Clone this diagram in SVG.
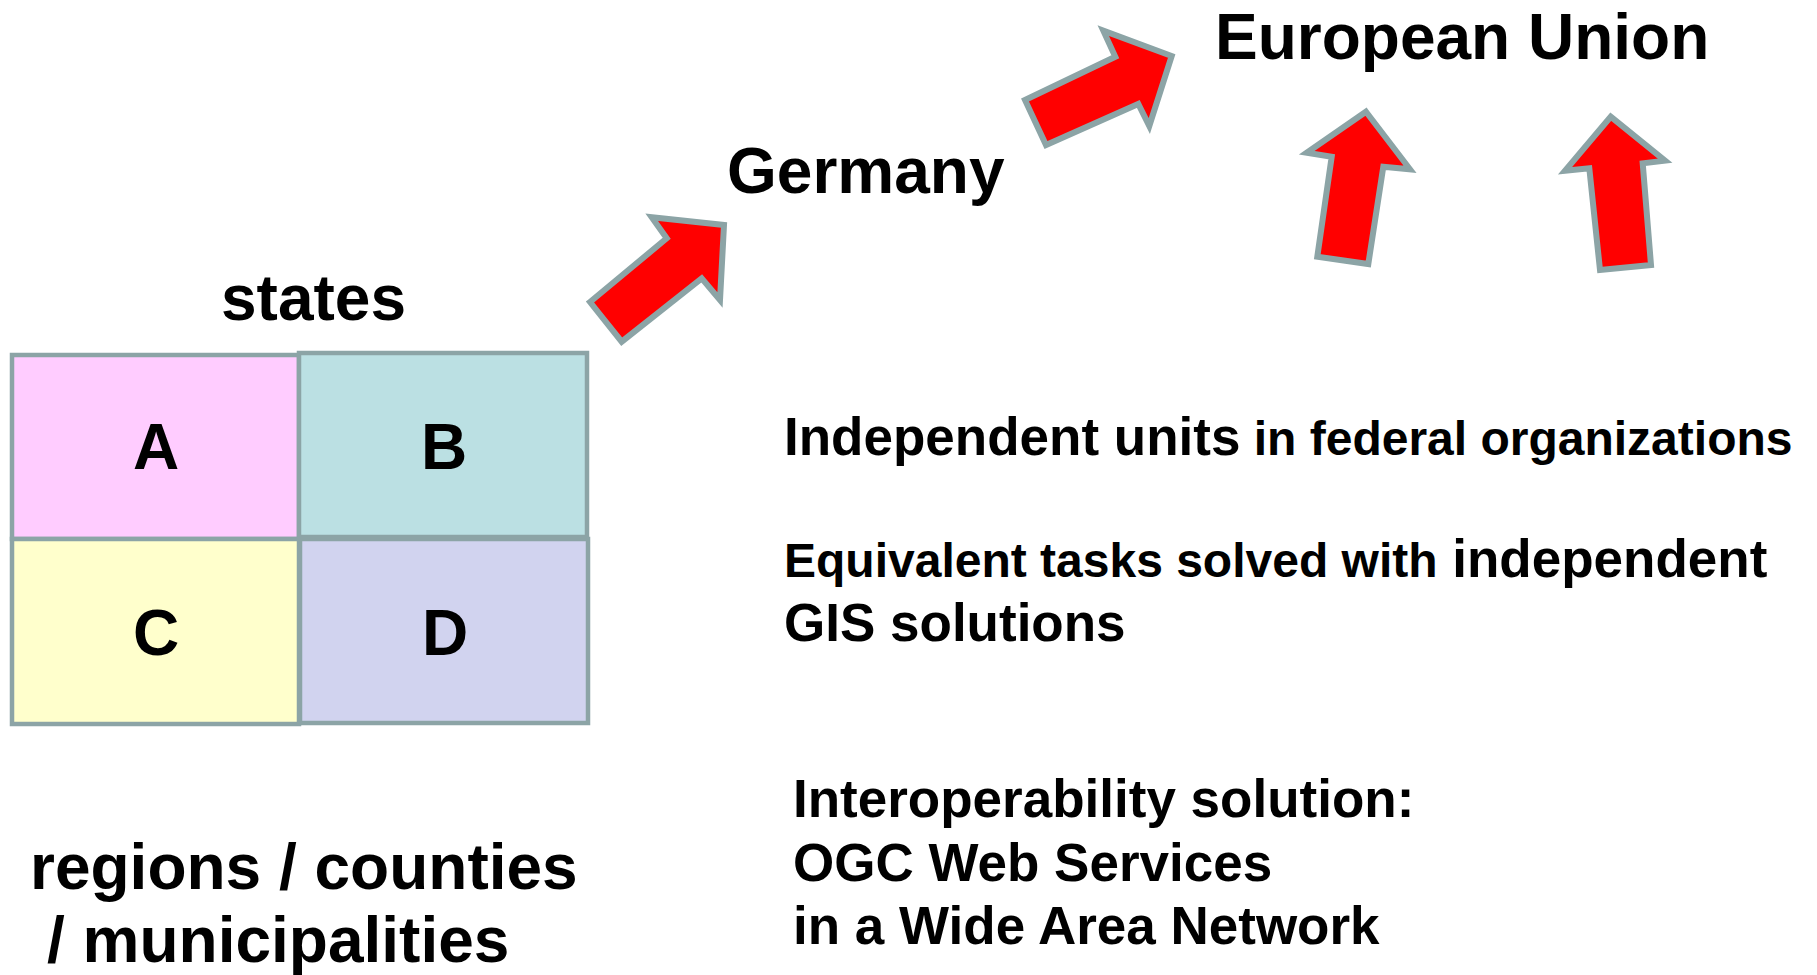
<svg xmlns="http://www.w3.org/2000/svg" width="1817" height="975" viewBox="0 0 1817 975">
<style>
.t{font-family:"Liberation Sans",Arial,sans-serif;font-weight:bold;fill:#000}
.big{font-size:64px}
.mid{font-size:53px}
.sm{font-size:48px}
.cell{stroke:#8CA4A6;stroke-width:4.5}
.arr{fill:#FF0000;stroke:#8CA4A6;stroke-width:6;stroke-linejoin:miter}
</style>
<rect width="1817" height="975" fill="#fff"/>
<g id="grid">
<g id="cellA"><rect class="cell" x="12" y="355" width="287" height="184" fill="#FFCCFF"/><text class="t big" x="156" y="469" text-anchor="middle">A</text></g>
<g id="cellB"><rect class="cell" x="299" y="353" width="288" height="184" fill="#BBE0E3"/><text class="t big" x="444" y="469" text-anchor="middle">B</text></g>
<g id="cellC"><rect class="cell" x="12" y="539" width="287" height="185" fill="#FFFFCC"/><text class="t big" x="156" y="655" text-anchor="middle">C</text></g>
<g id="cellD"><rect class="cell" x="300" y="539" width="288" height="184" fill="#D1D3EF"/><text class="t big" x="445" y="655" text-anchor="middle">D</text></g>
</g>
<g id="labels">
<text id="eu" class="t big" x="1215" y="59">European Union</text>
<text id="germany" class="t big" x="727" y="193">Germany</text>
<text id="states" class="t big" x="221" y="320">states</text>
<text id="regions" class="t big"><tspan x="30" y="889">regions / counties</tspan><tspan x="47" y="962">/ municipalities</tspan></text>
<text id="independent" class="t" x="784" y="455"><tspan class="mid">Independent units</tspan><tspan class="sm"> in federal organizations</tspan></text>
<text id="equivalent" class="t"><tspan class="sm" x="784" y="577">Equivalent tasks solved with</tspan><tspan class="mid"> independent</tspan><tspan class="mid" x="784" y="641">GIS solutions</tspan></text>
<text id="interop" class="t mid"><tspan x="793" y="817">Interoperability solution:</tspan><tspan x="793" y="881">OGC Web Services</tspan><tspan x="793" y="944">in a Wide Area Network</tspan></text>
</g>
<g id="connectors">
<polygon id="arrow1" class="arr" points="590,302 666.7,238.3 651.7,217.3 724,225 720,300 701.7,278.3 621.7,341.7"/>
<polygon id="arrow2" class="arr" points="1025,100 1115.3,56.7 1103.3,30.7 1171.7,56 1149.3,126 1138.3,104 1046,145"/>
<polygon id="arrow3" class="arr" points="1366,111.7 1410,169.3 1383.3,166.7 1368.3,264 1317.3,256.7 1331.7,156.7 1306.7,152.7"/>
<polygon id="arrow4" class="arr" points="1610.7,116.7 1665,160.7 1642.7,163.3 1651,265 1600,270 1589.3,168.3 1565,170.7"/>
</g>
</svg>
